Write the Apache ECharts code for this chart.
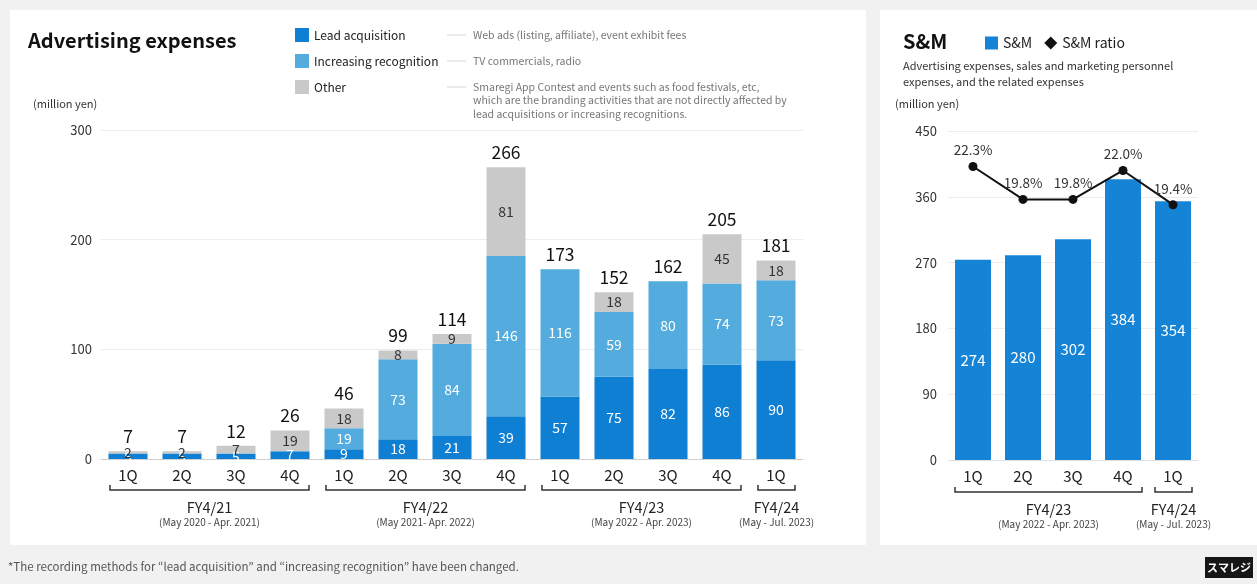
<!DOCTYPE html>
<html>
<head>
<meta charset="utf-8">
<script src="https://cdn.jsdelivr.net/npm/echarts@6/dist/echarts.min.js"></script>
<style>
  html, body { margin: 0; padding: 0; background: #f1f1f1; }
  #chart { width: 1257px; height: 584px; }
</style>
</head>
<body>
<div id="chart"></div>
<script>
// ---------- Data ----------
const categories = ['1Q','2Q','3Q','4Q','1Q','2Q','3Q','4Q','1Q','2Q','3Q','4Q','1Q'];
const leadAcquisition = [5, 5, 5, 7, 9, 18, 21, 39, 57, 75, 82, 86, 90];
const increasingRecognition = [0, 0, 0, 0, 19, 73, 84, 146, 116, 59, 80, 74, 73];
const otherExpenses = [2, 2, 7, 19, 18, 8, 9, 81, 0, 18, 0, 45, 18];
const totals = [7, 7, 12, 26, 46, 99, 114, 266, 173, 152, 162, 205, 181];
const adTicks = { min: 0, max: 300, interval: 100 };

const fyNames = ['FY4/21', 'FY4/22', 'FY4/23', 'FY4/24'];
const fyPeriods = ['(May 2020 - Apr. 2021)', '(May 2021- Apr. 2022)', '(May 2022 - Apr. 2023)', '(May - Jul. 2023)'];
const fyStart = [0, 4, 8, 12];
const fyEnd = [3, 7, 11, 12];

const smCategories = ['1Q','2Q','3Q','4Q','1Q'];
const smValues = [274, 280, 302, 384, 354];
const smRatio = [22.3, 19.8, 19.8, 22.0, 19.4];
const smTicks = { min: 0, max: 450, interval: 90 };
const smFyNames = ['FY4/23', 'FY4/24'];
const smFyPeriods = ['(May 2022 - Apr. 2023)', '(May - Jul. 2023)'];
const smFyStart = [0, 4];
const smFyEnd = [3, 4];

const legendNames = ['Lead acquisition', 'Increasing recognition', 'Other'];
const legendDescriptions = [
  ['Web ads (listing, affiliate), event exhibit fees'],
  ['TV commercials, radio'],
  ['Smaregi App Contest and events such as food festivals, etc,',
   'which are the branding activities that are not directly affected by',
   'lead acquisitions or increasing recognitions.']
];

// ---------- Style ----------
const FONT = "'Noto Sans CJK JP', 'Noto Sans', sans-serif";
const C_LEAD = '#0f7fd3';
const C_INC = '#53acdd';
const C_OTHER = '#c9c9c9';
const C_SM = '#1584d6';

const chart = echarts.init(document.getElementById('chart'), null, { renderer: 'canvas' });

const hideZero = p => (p.value > 0 ? String(p.value) : '');

const option = {
  backgroundColor: '#f1f1f1',
  textStyle: { fontFamily: FONT },
  animation: false,
  legend: [
    {
      data: legendNames,
      orient: 'vertical',
      left: 290, top: 23,
      itemWidth: 14, itemHeight: 14, itemGap: 12,
      icon: 'rect',
      textStyle: { fontFamily: FONT, fontSize: 12, color: '#222' }
    },
    {
      data: [{ name: 'S&M', icon: 'rect' }, { name: 'S&M ratio', icon: 'diamond' }],
      left: 980, top: 31,
      itemWidth: 13, itemHeight: 13, itemGap: 12,
      textStyle: { fontFamily: FONT, fontSize: 14, color: '#222' }
    }
  ],
  grid: [
    { left: 101, top: 130, width: 702, height: 329 },
    { left: 948, top: 131, width: 250, height: 329 }
  ],
  xAxis: [
    {
      type: 'category', gridIndex: 0, data: categories,
      axisLine: { lineStyle: { color: '#cfcfcf' } },
      axisTick: { show: false },
      axisLabel: { fontFamily: FONT, fontSize: 15, color: '#222', margin: 9 }
    },
    {
      type: 'category', gridIndex: 1, data: smCategories,
      axisLine: { lineStyle: { color: '#e0e0e0' } },
      axisTick: { show: false },
      axisLabel: { fontFamily: FONT, fontSize: 15, color: '#222', margin: 9 }
    }
  ],
  yAxis: [
    {
      type: 'value', gridIndex: 0, min: adTicks.min, max: adTicks.max, interval: adTicks.interval,
      axisLine: { show: false }, axisTick: { show: false },
      axisLabel: { fontFamily: FONT, fontSize: 13, color: '#333', margin: 9 },
      splitLine: { lineStyle: { color: '#ececec' } }
    },
    {
      type: 'value', gridIndex: 1, min: smTicks.min, max: smTicks.max, interval: smTicks.interval,
      axisLine: { show: false }, axisTick: { show: false },
      axisLabel: { fontFamily: FONT, fontSize: 13, color: '#333', margin: 11 },
      splitLine: { lineStyle: { color: '#ececec' } }
    },
    {
      type: 'value', gridIndex: 1, min: 0, max: 25, show: false,
      splitLine: { show: false }
    }
  ],
  series: [
    {
      name: 'Lead acquisition', type: 'bar', stack: 'ad', xAxisIndex: 0, yAxisIndex: 0,
      data: leadAcquisition, barWidth: 39, barGap: '-100%',
      itemStyle: { color: C_LEAD },
      label: { show: true, position: 'inside', color: '#fff', fontSize: 14, fontFamily: FONT, formatter: hideZero }
    },
    {
      name: 'Increasing recognition', type: 'bar', stack: 'ad', xAxisIndex: 0, yAxisIndex: 0,
      data: increasingRecognition, barWidth: 39, barGap: '-100%',
      itemStyle: { color: C_INC },
      label: { show: true, position: 'inside', color: '#fff', fontSize: 14, fontFamily: FONT, formatter: hideZero }
    },
    {
      name: 'Other', type: 'bar', stack: 'ad', xAxisIndex: 0, yAxisIndex: 0,
      data: otherExpenses, barWidth: 39, barGap: '-100%',
      itemStyle: { color: C_OTHER },
      label: { show: true, position: 'inside', color: '#333', fontSize: 14, fontFamily: FONT, formatter: hideZero }
    },
    {
      name: 'Total', type: 'bar', xAxisIndex: 0, yAxisIndex: 0,
      data: totals, barWidth: 39, barGap: '-100%', z: 1,
      itemStyle: { color: 'rgba(0,0,0,0)' },
      label: { show: true, position: 'top', distance: 6, color: '#111', fontSize: 17.5, fontFamily: FONT }
    },
    {
      name: 'S&M', type: 'bar', xAxisIndex: 1, yAxisIndex: 1,
      data: smValues, barWidth: 36,
      itemStyle: { color: C_SM },
      label: { show: true, position: 'inside', color: '#fff', fontSize: 15, fontFamily: FONT }
    },
    {
      name: 'S&M ratio', type: 'line', xAxisIndex: 1, yAxisIndex: 2,
      data: smRatio, symbol: 'circle', symbolSize: 9, z: 5,
      lineStyle: { color: '#111', width: 2 },
      itemStyle: { color: '#111' },
      label: { show: true, position: 'top', distance: 5, color: '#333', fontSize: 13.5, fontFamily: FONT,
               formatter: p => p.value.toFixed(1) + '%' }
    }
  ]
};

chart.setOption(option);

// ---------- Decorations (panels, titles, notes, fiscal-year brackets) ----------
const graphics = [
  { type: 'rect', z: -10, shape: { x: 10, y: 10, width: 856, height: 535 }, style: { fill: '#ffffff' }, silent: true },
  { type: 'rect', z: -10, shape: { x: 880, y: 10, width: 390, height: 535 }, style: { fill: '#ffffff' }, silent: true },
  { type: 'text', x: 28, y: 40, style: { text: 'Advertising expenses', font: `bold 20px ${FONT}`, fill: '#111', verticalAlign: 'middle' } },
  { type: 'text', x: 33, y: 104, style: { text: '(million yen)', font: `11px ${FONT}`, fill: '#333', verticalAlign: 'middle' } },
  { type: 'text', x: 903, y: 41, style: { text: 'S&M', font: `bold 20px ${FONT}`, fill: '#111', verticalAlign: 'middle' } },
  { type: 'text', x: 903, y: 66, style: { text: 'Advertising expenses, sales and marketing personnel', font: `11px ${FONT}`, fill: '#333', verticalAlign: 'middle' } },
  { type: 'text', x: 903, y: 82, style: { text: 'expenses, and the related expenses', font: `11px ${FONT}`, fill: '#333', verticalAlign: 'middle' } },
  { type: 'text', x: 895, y: 104, style: { text: '(million yen)', font: `11px ${FONT}`, fill: '#333', verticalAlign: 'middle' } },
  { type: 'text', x: 8, y: 567, style: { text: '*The recording methods for \u201clead acquisition\u201d and \u201cincreasing recognition\u201d have been changed.', font: `11.5px ${FONT}`, fill: '#555', verticalAlign: 'middle' } },
  { type: 'rect', shape: { x: 1205, y: 557, width: 48, height: 21 }, style: { fill: '#161616' } },
  { type: 'text', x: 1229, y: 567.5, style: { text: 'スマレジ', font: `bold 11px 'Noto Sans CJK JP', sans-serif`, fill: '#fff', align: 'center', verticalAlign: 'middle' } }
];

// Legend descriptions
legendDescriptions.forEach((lines, i) => {
  const y0 = [35, 61, 87][i];
  graphics.push({ type: 'line', shape: { x1: 447, y1: y0, x2: 466, y2: y0 }, style: { stroke: '#d6d6d6', lineWidth: 1 } });
  lines.forEach((t, j) => {
    graphics.push({ type: 'text', x: 473, y: y0 + j * 13.5, style: { text: t, font: `10.5px ${FONT}`, fill: '#777', verticalAlign: 'middle' } });
  });
});

function addBrackets(gridIndex, starts, ends, names, periods, yBase) {
  for (let i = 0; i < names.length; i++) {
    const xs = chart.convertToPixel({ gridIndex }, [starts[i], 0]);
    const xe = chart.convertToPixel({ gridIndex }, [ends[i], 0]);
    const x1 = xs[0] - 18, x2 = xe[0] + 19;
    const y = xs[1] + yBase;
    graphics.push({ type: 'polyline', shape: { points: [[x1, y - 5], [x1, y], [x2, y], [x2, y - 5]] }, style: { stroke: '#333', lineWidth: 1.5, fill: null } });
    const cx = (x1 + x2) / 2;
    graphics.push({ type: 'text', x: cx, y: y + 17, style: { text: names[i], font: `14.5px ${FONT}`, fill: '#222', align: 'center', verticalAlign: 'middle' } });
    graphics.push({ type: 'text', x: cx, y: y + 32, style: { text: periods[i], font: `10px ${FONT}`, fill: '#444', align: 'center', verticalAlign: 'middle' } });
  }
}
addBrackets(0, fyStart, fyEnd, fyNames, fyPeriods, 31);
addBrackets(1, smFyStart, smFyEnd, smFyNames, smFyPeriods, 32);

chart.setOption({ graphic: graphics });
</script>
</body>
</html>
